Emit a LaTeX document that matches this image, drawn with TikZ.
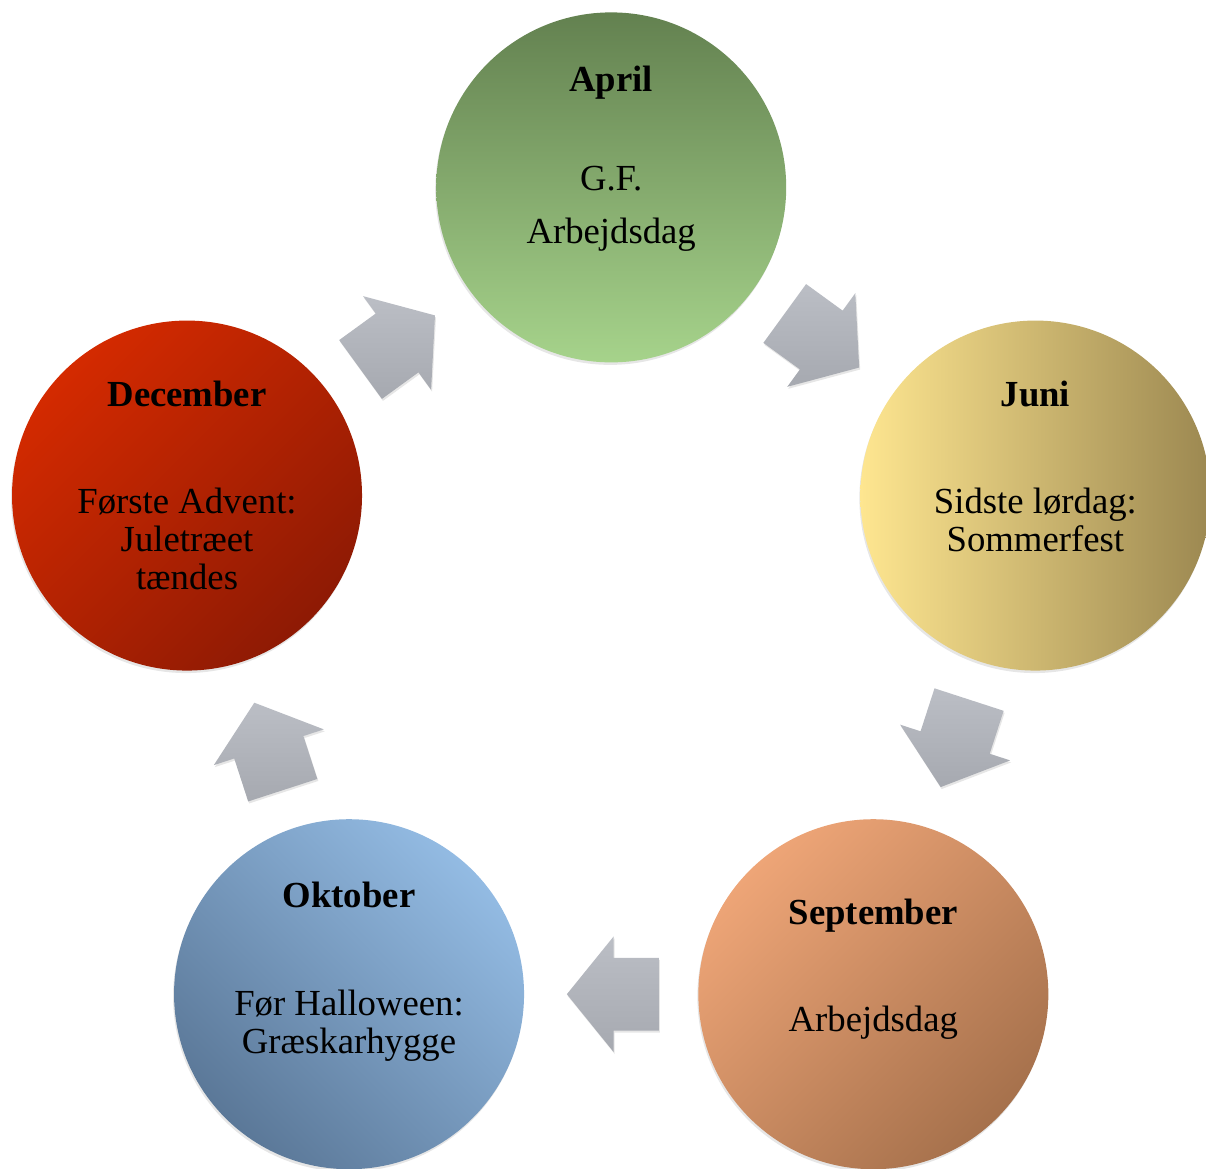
\documentclass[tikz,border=0pt]{standalone}
\usepackage{fontspec}
\setmainfont{Liberation Serif}
\usetikzlibrary{shapes.arrows,shadows,calc}

\definecolor{aprilTop}{HTML}{638150}
\definecolor{aprilBund}{HTML}{A6D38B}
\definecolor{juniVenstre}{HTML}{FEE690}
\definecolor{juniHoejre}{HTML}{9C8851}
\definecolor{septLys}{HTML}{EEA577}
\definecolor{septMoerk}{HTML}{A6714C}
\definecolor{oktLys}{HTML}{93BBE3}
\definecolor{oktMoerk}{HTML}{5B7898}
\definecolor{decLys}{HTML}{D42A00}
\definecolor{decMoerk}{HTML}{8E1A04}
\definecolor{pilTop}{HTML}{BBBEC5}
\definecolor{pilBund}{HTML}{A6A9B0}

\tikzset{
	maaned/.style={circle, minimum size=7cm, inner sep=0pt,
		drop shadow={shadow xshift=-0.02cm, shadow yshift=-0.05cm, opacity=0.2}},
	titel/.style={anchor=base, font=\fontsize{20.9}{22}\selectfont\bfseries},
	tekst/.style={anchor=base, align=center, font=\fontsize{20.9}{21.6}\selectfont},
	pil/.style={single arrow, minimum height=1.84cm, minimum width=0pt,
		text height=0.72cm, text depth=0.72cm, text width=0pt,
		single arrow head extend=0.43cm, single arrow tip angle=102, inner sep=0pt,
		rotate=#1, anchor=tail, top color=pilTop, bottom color=pilBund,
		drop shadow={shadow xshift=0.02cm, shadow yshift=-0.04cm, opacity=0.2}}
}

\begin{document}
\begin{tikzpicture}
	\useasboundingbox (0, 0) rectangle (24.12, 23.38);
	\coordinate (midt) at (12.224, 10.712);

	% cirklerne
	\node[maaned, top color=aprilTop, bottom color=aprilBund] (april) at ([shift={(90:8.92)}]midt) {};
	\node[maaned, left color=juniVenstre, right color=juniHoejre] (juni) at ([shift={(18:8.92)}]midt) {};
	\node[maaned, top color=septLys, bottom color=septMoerk, shading angle=45] (sept) at ([shift={(-54:8.92)}]midt) {};
	\node[maaned, top color=oktLys, bottom color=oktMoerk, shading angle=-45] (okt) at ([shift={(-126:8.92)}]midt) {};
	\node[maaned, top color=decLys, bottom color=decMoerk, shading angle=45] (dec) at ([shift={(162:8.92)}]midt) {};

	% pilene (halen lidt bag midtpunktet)
	\node[pil=-36] (pilAJ) at ($(april)!0.5!(juni)!0.96cm!(april)$) {};
	\node[pil=-108] (pilJS) at ($(juni)!0.5!(sept)!0.96cm!(juni)$) {};
	\node[pil=180] (pilSO) at ($(sept)!0.5!(okt)!0.96cm!(sept)$) {};
	\node[pil=108] (pilOD) at ($(okt)!0.5!(dec)!0.96cm!(okt)$) {};
	\node[pil=36] (pilDA) at ($(dec)!0.5!(april)!0.96cm!(dec)$) {};

	% tekster (base = sidste linje)
	\node[titel] (aprilTitel) at ([yshift=1.92cm]april.center) {April};
	\node[tekst] (aprilTekst) at ([yshift=-1.12cm]april.center) {G.F.\\[8.6pt]Arbejdsdag};
	\node[titel] (juniTitel) at ([yshift=1.78cm]juni.center) {Juni};
	\node[tekst] (juniTekst) at ([yshift=-1.12cm]juni.center) {Sidste lørdag:\\Sommerfest};
	\node[titel] (septTitel) at ([yshift=1.40cm]sept.center) {September};
	\node[tekst] (septTekst) at ([yshift=-0.74cm]sept.center) {Arbejdsdag};
	\node[titel] (oktTitel) at ([yshift=1.74cm]okt.center) {Oktober};
	\node[tekst] (oktTekst) at ([yshift=-1.18cm]okt.center) {Før Halloween:\\Græskarhygge};
	\node[titel] (decTitel) at ([yshift=1.78cm]dec.center) {December};
	\node[tekst] (decTekst) at ([yshift=-1.88cm]dec.center) {Første Advent:\\Juletræet\\tændes};
\end{tikzpicture}
\end{document}
